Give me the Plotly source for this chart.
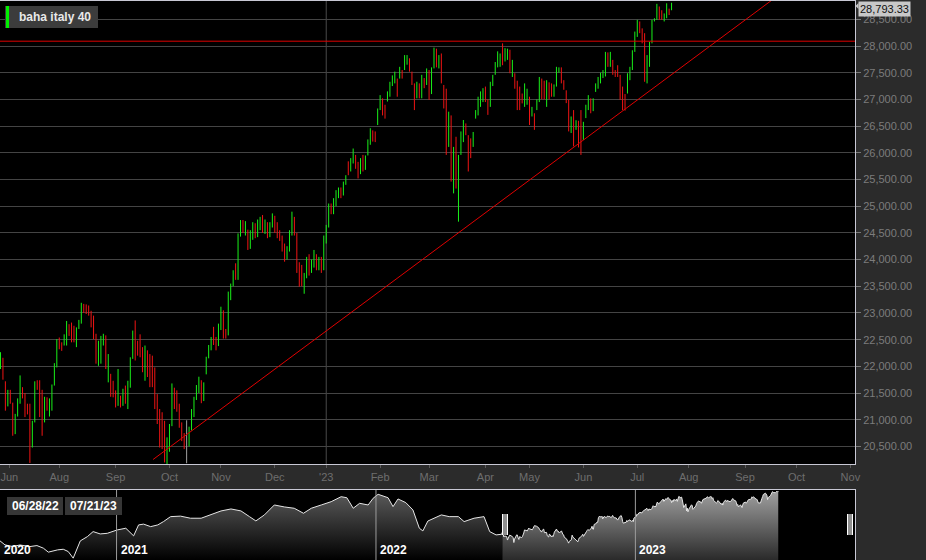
import plotly.graph_objects as go
import pandas as pd

# ---------------- data ----------------
HOLIDAYS = ["2022-12-26", "2023-04-07", "2023-04-10", "2023-05-01"]
bar_dates = [d.strftime("%Y-%m-%d") for d in pd.bdate_range("2022-06-28", "2023-07-21")
             if d.strftime("%Y-%m-%d") not in HOLIDAYS]

opens = [
    22000, 22120, 21700, 21300,
    21500, 21300, 20800, 21080, 21400,
    21580, 21450, 21250, 21200, 20500,
    20980, 21720, 21700, 21200, 20950,
    21400, 21150, 21300, 21650, 22000,
    22500, 22400, 22400, 22550, 22780,
    22700, 22600, 22450, 22720, 22820,
    23170, 23150, 23100, 23000, 22900,
    22500, 22100, 22200, 22450, 22550,
    21750, 21850, 21700, 21500, 21330,
    21400, 21300, 21500, 21350, 21650,
    22150, 22700, 22400, 22450, 22300,
    21850, 22250, 22100, 21900, 21800,
    21300, 21100, 20700, 20900, 20350,
    20500, 20900, 21550, 21450, 21200,
    20900, 20700, 20515, 20550, 20850,
    21150, 21400, 21600, 21700, 21400,
    21870, 22180, 22350, 22600, 22500,
    22400, 22750, 23000, 22680, 22600,
    23300, 23550, 23850, 23650, 24450,
    24700, 24500, 24550, 24250, 24450,
    24650, 24450, 24650, 24800, 24550,
    24650, 24450, 24650, 24800, 24600,
    24450, 24400, 24250, 24050, 24200,
    24500, 24750, 24450, 23900, 23800,
    23550, 23700, 24000, 23800, 23950,
    24050, 23850, 24000, 23850,
    24400, 24650, 25000, 24900, 25150,
    25250, 25300, 25250, 25450, 25830,
    25650, 25850, 25950, 25830, 25650,
    25900, 25750, 25960, 26200, 26400,
    26300, 26520, 26830, 27020, 26800,
    26960, 27100, 27270, 27350, 27390,
    27400, 27550, 27550, 27700, 27770,
    27520, 27300, 27020, 27250, 27100,
    27400, 27300, 27500, 27150, 27600,
    27900, 27700, 27800, 27270, 26900,
    26200, 26650, 25500, 26100, 25300,
    25960, 26350, 26550, 26330, 26250,
    26110, 26640, 26750, 26860, 27000,
    27240, 26950, 26860, 27300,
    27460, 27650, 27610, 28000,
    27710, 27750, 27900, 27420, 27490,
    27300, 27240, 27110, 26860, 26950,
    27050, 26680, 26740, 26800,
    27000, 27390, 27300, 26860, 27300,
    27300, 27050, 27240, 27520, 27580,
    27360, 27170, 26990, 26370, 26650,
    26430, 26550, 26300, 26240, 26650,
    26850, 27000, 26800, 27140, 27250,
    27300, 27450, 27430, 27850, 27650,
    27740, 27500, 27640, 27460, 27240,
    27000, 27110, 27360, 27550, 27890,
    28170, 28450, 28300, 28240, 27300,
    27610, 28050, 28460, 28490, 28700,
    28600, 28460, 28600, 28700, 28680,
]
highs = [
    22265, 22160, 21720, 21560,
    21560, 21320, 21110, 21400, 21830,
    21610, 21500, 21300, 21300, 20980,
    21720, 21740, 21740, 21560, 21430,
    21420, 21400, 21660, 22060, 22510,
    22540, 22450, 22600, 22850, 22790,
    22820, 22760, 22730, 22870, 23190,
    23170, 23160, 23140, 23040, 22950,
    22610, 22480, 22570, 22610, 22580,
    22230, 21860, 21730, 21550, 21950,
    21450, 21580, 21640, 21730, 22170,
    22670, 22860, 22480, 22600, 22360,
    22390, 22300, 22230, 22200, 21980,
    21480, 21200, 21140, 20980, 20670,
    20920, 21680, 21600, 21550, 21300,
    20950, 20750, 20990, 20870, 21200,
    21430, 21650, 21806, 21740, 21700,
    22180, 22400, 22550, 22740, 22550,
    22800, 23117, 23050, 22700, 23400,
    23550, 23800, 23930, 24490, 24740,
    24740, 24720, 24560, 24550, 24700,
    24680, 24750, 24800, 24834, 24750,
    24700, 24700, 24865, 24820, 24700,
    24550, 24450, 24300, 24250, 24550,
    24897, 24800, 24500, 23950, 23900,
    23750, 24050, 24100, 24000, 24180,
    24100, 24050, 24050, 24450,
    24650, 25050, 25050, 25150, 25300,
    25350, 25350, 25460, 25580, 25840,
    25900, 26080, 25960, 25830, 25900,
    25960, 25950, 26250, 26460, 26420,
    26400, 26830, 27080, 27020, 26900,
    27150, 27330, 27450, 27520, 27390,
    27610, 27550, 27830, 27830, 27770,
    27520, 27300, 27330, 27300, 27460,
    27400, 27580, 27550, 27600, 27970,
    27950, 27830, 27860, 27270, 27200,
    26770, 26700, 26110, 26300, 25960,
    26400, 26614, 26550, 26330, 26270,
    26390, 26800, 27050, 27150, 27210,
    27240, 27000, 27330, 27460,
    27700, 27900, 27860, 28050,
    27960, 27950, 27930, 27740, 27490,
    27350, 27240, 27110, 27300, 27200,
    27050, 26860, 26740, 27000,
    27420, 27390, 27350, 27360, 27320,
    27300, 27280, 27610, 27600, 27600,
    27360, 27170, 26990, 26680, 26800,
    26610, 26600, 26800, 26580, 26900,
    27080, 27020, 27020, 27300, 27420,
    27500, 27550, 27890, 27880, 27890,
    27740, 27550, 27640, 27460, 27240,
    27100, 27490, 27610, 27920, 28270,
    28490, 28460, 28330, 28240, 27830,
    28080, 28490, 28520, 28790, 28740,
    28670, 28610, 28800, 28700, 28810,
]
lows = [
    21950, 21750, 21170, 21250,
    21300, 20700, 20730, 21060, 21300,
    21400, 21050, 21100, 20190, 20480,
    20950, 21560, 21050, 20700, 20950,
    21170, 21060, 21170, 21640, 21980,
    22320, 22290, 22390, 22390, 22570,
    22450, 22450, 22360, 22700, 22800,
    23000, 22980, 22950, 22730, 22510,
    22050, 22010, 22050, 22390, 21950,
    21700, 21430, 21420, 21230, 21260,
    21230, 21260, 21300, 21200, 21600,
    22140, 22110, 22200, 22170, 21890,
    21730, 21800, 21610, 21610, 21200,
    20920, 20480, 20450, 20200, 20170,
    20400, 20880, 21200, 21150, 20850,
    20600, 20450, 20185, 20500, 20800,
    21050, 21370, 21500, 21310, 21350,
    21850, 22150, 22300, 22400, 22300,
    22380, 22680, 22520, 22520, 22580,
    23240, 23500, 23620, 23620, 24430,
    24500, 24450, 24180, 24200, 24370,
    24400, 24420, 24550, 24500, 24480,
    24400, 24420, 24600, 24500, 24400,
    24350, 24150, 23960, 24000, 24150,
    24450, 24450, 23750, 23492, 23500,
    23360, 23650, 23700, 23750, 23850,
    23800, 23800, 23750, 23800,
    24300, 24600, 24850, 24850, 25000,
    25150, 25150, 25200, 25400, 25580,
    25650, 25800, 25700, 25520, 25600,
    25650, 25680, 25950, 26150, 26210,
    26200, 26520, 26800, 26700, 26640,
    26960, 27050, 27250, 27300, 27050,
    27390, 27390, 27550, 27650, 27520,
    27270, 26800, 27020, 27020, 27020,
    27210, 27270, 26990, 27100, 27580,
    27600, 27580, 27300, 26830, 25960,
    26110, 25460, 25240, 25330, 24710,
    25960, 26200, 26330, 25650, 25900,
    26110, 26640, 26700, 26860, 26950,
    26950, 26710, 26860, 27250,
    27460, 27600, 27610, 27640,
    27710, 27740, 27490, 27420, 27200,
    26800, 26800, 26925, 26860, 26900,
    26520, 26680, 26430, 26800,
    26950, 27000, 27000, 26860, 27000,
    27050, 27050, 27240, 27500, 27300,
    27180, 26930, 26400, 26370, 26120,
    26430, 26100, 25960, 26240, 26650,
    26800, 26740, 26780, 27140, 27200,
    27300, 27400, 27430, 27610, 27610,
    27460, 27420, 27420, 26990, 26800,
    26790, 27110, 27360, 27550, 27890,
    28170, 28240, 28050, 27330, 27300,
    27610, 28050, 28460, 28490, 28490,
    28490, 28460, 28520, 28580, 28670,
]
closes = [
    22150, 21800, 21300, 21480,
    21350, 20800, 21050, 21380, 21600,
    21450, 21150, 21180, 20400, 20950,
    21650, 21610, 21150, 20900, 21350,
    21200, 21350, 21600, 21950, 22450,
    22350, 22300, 22550, 22750, 22620,
    22500, 22480, 22700, 22850, 23150,
    23050, 23000, 22980, 22800, 22550,
    22100, 22400, 22500, 22580, 22000,
    22050, 21500, 21450, 21300, 21800,
    21300, 21520, 21350, 21650, 22100,
    22600, 22250, 22300, 22200, 21950,
    22300, 21850, 21700, 21650, 21250,
    21000, 20600, 20550, 20300, 20600,
    20850, 21600, 21300, 21200, 20950,
    20650, 20550, 20515, 20850, 21150,
    21380, 21600, 21750, 21400, 21650,
    22150, 22350, 22500, 22450, 22350,
    22750, 23050, 22600, 22560, 23350,
    23500, 23750, 23700, 24450, 24650,
    24550, 24680, 24250, 24500, 24650,
    24450, 24700, 24750, 24550, 24700,
    24450, 24650, 24820, 24550, 24450,
    24400, 24200, 24050, 24200, 24500,
    24800, 24500, 23850, 23550, 23600,
    23700, 24000, 23800, 23950, 24100,
    23850, 24000, 23800, 24400,
    24600, 25000, 24900, 25100, 25240,
    25300, 25200, 25430, 25550, 25620,
    25850, 26000, 25750, 25600, 25850,
    25750, 25900, 26200, 26400, 26250,
    26280, 26780, 27000, 26750, 26700,
    27100, 27280, 27420, 27480, 27100,
    27560, 27420, 27780, 27750, 27550,
    27300, 26900, 27250, 27050, 27400,
    27250, 27500, 27100, 27550, 27900,
    27700, 27800, 27350, 26900, 26100,
    26700, 25550, 26000, 25400, 25800,
    26350, 26550, 26400, 25800, 25950,
    26350, 26750, 27000, 27100, 27150,
    27000, 26800, 27280, 27400,
    27650, 27850, 27800, 27700,
    27900, 27850, 27550, 27700, 27250,
    26900, 26850, 26950, 27250, 27150,
    26600, 26800, 26500, 26950,
    27350, 27100, 27050, 27300, 27100,
    27080, 27250, 27550, 27580, 27350,
    27200, 26950, 26450, 26600, 26200,
    26550, 26150, 26100, 26500, 26850,
    27000, 26800, 26980, 27250, 27380,
    27450, 27500, 27850, 27700, 27850,
    27500, 27450, 27450, 27050, 26850,
    26850, 27450, 27580, 27880, 28230,
    28450, 28300, 28100, 27400, 27750,
    28000, 28450, 28500, 28700, 28550,
    28520, 28600, 28750, 28620, 28793.33,
]

# navigator history (before the shown window), read from the overview strip
nav_hist_dates = [
    "2020-07-21", "2020-07-28", "2020-08-08", "2020-08-18", "2020-09-01", "2020-09-11",
    "2020-09-20", "2020-09-27", "2020-10-10", "2020-10-18", "2020-10-25", "2020-11-01",
    "2020-11-11", "2020-11-21", "2020-11-29", "2020-12-09", "2020-12-19", "2021-01-02",
    "2021-01-14", "2021-01-25", "2021-02-01", "2021-02-08", "2021-02-18", "2021-02-28",
    "2021-03-08", "2021-03-18", "2021-04-01", "2021-04-15", "2021-04-30", "2021-05-14",
    "2021-05-28", "2021-06-11", "2021-06-25", "2021-07-07", "2021-07-16", "2021-07-28",
    "2021-08-11", "2021-08-25", "2021-09-08", "2021-09-21", "2021-10-02", "2021-10-16",
    "2021-10-30", "2021-11-13", "2021-11-21", "2021-11-30", "2021-12-09", "2021-12-21",
    "2021-12-28", "2022-01-04", "2022-01-18", "2022-01-25", "2022-02-01", "2022-02-12",
    "2022-02-22", "2022-03-03", "2022-03-08", "2022-03-15", "2022-03-24", "2022-04-03",
    "2022-04-14", "2022-04-27", "2022-05-05", "2022-05-19", "2022-06-02", "2022-06-10",
    "2022-06-19", "2022-06-27",
]
nav_hist_values = [
    20665, 20015, 19740, 20000, 19740, 19900,
    19480, 18830, 19200, 19300, 18925, 17850,
    20665, 21365, 22180, 21800, 21900, 22455,
    22730, 21480, 23270, 23400, 22990, 23270,
    23810, 24620, 24700, 24360, 24360, 24895,
    25545, 25870, 25550, 24620, 23920, 24895,
    26520, 26200, 25985, 25170, 25985, 26520,
    27060, 27870, 27700, 25985, 26790, 26520,
    27610, 28260, 27700, 26250, 27500, 26900,
    25710, 22730, 22290, 23900, 24360, 24900,
    24620, 24620, 23810, 24360, 24620, 22180,
    21640, 21750,
]

# trend line and level line drawn on the chart
trend_dates = ["2022-09-22 07:00", "2023-10-16"]
trend_values = [20255, 29542]
level_value = 28090

month_ticks = ["2022-07-01 14:00", "2022-08-01", "2022-09-01", "2022-10-03", "2022-11-01", "2022-12-01",
               "2023-01-02", "2023-02-01", "2023-03-01", "2023-04-03", "2023-05-02", "2023-06-01",
               "2023-07-03", "2023-08-01", "2023-09-01", "2023-10-02", "2023-11-01"]
month_labels = ["Jun", "Aug", "Sep", "Oct", "Nov", "Dec", "'23", "Feb", "Mar", "Apr", "May", "Jun",
                "Jul", "Aug", "Sep", "Oct", "Nov"]
price_ticks = [20500, 21000, 21500, 22000, 22500, 23000, 23500, 24000, 24500,
               25000, 25500, 26000, 26500, 27000, 27500, 28000, 28500]
year_starts = ["2021-01-01", "2022-01-01", "2023-01-01"]
year_labels = ["2020", "2021", "2022", "2023"]
window_labels = ["06/28/22", "07/21/23"]
series_name = "baha italy 40"

# -------------- geometry helpers (paper coords) --------------
W_PLOT = 855.0
H_PAPER = 559.0  # 560 - top margin 1


def px(x):
    return x / W_PLOT


def py(y):
    return 1 - (y - 1) / H_PAPER


FONT = "Liberation Sans, Arial, sans-serif"
MAIN_BOTTOM = py(464)
NAV_TOP = py(490)

# sanitize highs / lows so each bar contains its open/close
highs = [max(h, o, c) for h, o, c in zip(highs, opens, closes)]
lows = [min(l, o, c) for l, o, c in zip(lows, opens, closes)]

flat = [o == c for o, c in zip(opens, closes)]
idx_move = [i for i, f in enumerate(flat) if not f]
idx_flat = [i for i, f in enumerate(flat) if f]

fig = go.Figure()

fig.add_trace(go.Ohlc(
    x=[bar_dates[i] for i in idx_move],
    open=[opens[i] for i in idx_move], high=[highs[i] for i in idx_move],
    low=[lows[i] for i in idx_move], close=[closes[i] for i in idx_move],
    increasing=dict(line=dict(color="#19f019", width=1)),
    decreasing=dict(line=dict(color="#f01414", width=1)),
    tickwidth=0.5, xaxis="x", yaxis="y", hoverinfo="skip", name=series_name,
))
if idx_flat:
    fig.add_trace(go.Ohlc(
        x=[bar_dates[i] for i in idx_flat],
        open=[opens[i] for i in idx_flat], high=[highs[i] for i in idx_flat],
        low=[lows[i] for i in idx_flat], close=[closes[i] for i in idx_flat],
        increasing=dict(line=dict(color="#a0a0a0", width=1)),
        decreasing=dict(line=dict(color="#a0a0a0", width=1)),
        tickwidth=0.5, xaxis="x", yaxis="y", hoverinfo="skip",
    ))

# trend line
fig.add_trace(go.Scatter(x=trend_dates, y=trend_values, mode="lines",
                         line=dict(color="#e00000", width=1), xaxis="x", yaxis="y",
                         hoverinfo="skip", cliponaxis=True))

# navigator
NAV_LO, NAV_HI = 17550, 28960
fig.add_trace(go.Scatter(
    x=nav_hist_dates + [bar_dates[0]], y=nav_hist_values + [closes[0]], mode="lines",
    line=dict(color="#e6e6e6", width=1), fill="tozeroy",
    fillgradient=dict(type="vertical", colorscale=[[0, "#000000"], [1, "#5e5e5e"]],
                      start=NAV_LO, stop=NAV_HI),
    xaxis="x2", yaxis="y2", hoverinfo="skip"))
fig.add_trace(go.Scatter(
    x=bar_dates, y=closes, mode="lines",
    line=dict(color="#e6e6e6", width=1), fill="tozeroy",
    fillgradient=dict(type="vertical", colorscale=[[0, "#2a2a2a"], [1, "#a2a2a2"]],
                      start=NAV_LO, stop=NAV_HI),
    xaxis="x2", yaxis="y2", hoverinfo="skip"))

shapes = []
# level line
shapes.append(dict(type="line", xref="paper", yref="y", x0=0, x1=1, y0=level_value, y1=level_value,
                   line=dict(color="#e00000", width=1), layer="above"))
# year separator in main chart
shapes.append(dict(type="line", xref="x", yref="paper", x0="2023-01-02", x1="2023-01-02",
                   y0=MAIN_BOTTOM, y1=1, line=dict(color="#4a4a4a", width=1), layer="below"))
# navigator year lines
for ys in year_starts:
    shapes.append(dict(type="line", xref="x2", yref="paper", x0=ys, x1=ys, y0=0, y1=NAV_TOP,
                       line=dict(color="#9c9c9c", width=1), layer="above"))
# legend box
shapes.append(dict(type="rect", xref="paper", yref="paper", x0=px(5), x1=px(98), y0=py(28), y1=py(6),
                   fillcolor="#3c3c3c", line=dict(width=0), layer="above"))
shapes.append(dict(type="rect", xref="paper", yref="paper", x0=px(6), x1=px(9), y0=py(28), y1=py(6),
                   fillcolor="#00f000", line=dict(width=0), layer="above"))
# window date boxes
for x0, x1 in [(7, 63), (65, 122)]:
    shapes.append(dict(type="rect", xref="paper", yref="paper", x0=px(x0), x1=px(x1),
                       y0=py(515), y1=py(497), fillcolor="#363636", line=dict(width=0), layer="above"))
# navigator handles
for hx in [502, 847]:
    shapes.append(dict(type="rect", xref="paper", yref="paper", x0=px(hx), x1=px(hx + 6),
                       y0=py(535), y1=py(514), fillcolor="#ffffff", line=dict(width=0), layer="above"))
    for k in (2, 4):
        shapes.append(dict(type="line", xref="paper", yref="paper", x0=px(hx + k), x1=px(hx + k),
                           y0=py(535), y1=py(514), line=dict(color="#202020", width=1), layer="above"))
# small pointer of the last-price tag
shapes.append(dict(type="path", xref="paper", yref="paper",
                   path="M {a},{b} L {c},{d} L {c},{e} Z".format(a=px(855.5), b=py(6), c=px(858.5),
                                                                 d=py(3), e=py(9)),
                   fillcolor="#c8c8c8", line=dict(width=0), layer="above"))

annotations = []
annotations.append(dict(xref="paper", yref="paper", x=px(17), y=py(17), xanchor="left", yanchor="middle",
                        text="<b>%s</b>" % series_name, showarrow=False,
                        font=dict(family=FONT, size=12, color="#e8e8e8")))
for (x0, x1), t in zip([(7, 63), (65, 122)], window_labels):
    annotations.append(dict(xref="paper", yref="paper", x=px((x0 + x1) / 2), y=py(506),
                            xanchor="center", yanchor="middle", text="<b>%s</b>" % t, showarrow=False,
                            font=dict(family=FONT, size=12, color="#ffffff")))
for xs, t in zip(["2020-07-21"] + year_starts, year_labels):
    annotations.append(dict(xref="x2", yref="paper", x=xs, y=py(550), xanchor="left", yanchor="middle",
                            xshift=2, text="<b>%s</b>" % t, showarrow=False,
                            font=dict(family=FONT, size=12, color="#ffffff")))
annotations.append(dict(xref="paper", yref="paper", x=px(858), y=py(0.5), xanchor="left", yanchor="top",
                        text="{:,.2f}".format(closes[-1]), showarrow=False, bgcolor="#c8c8c8",
                        borderpad=1, font=dict(family=FONT, size=11, color="#111111")))

fig.update_layout(
    width=926, height=560,
    margin=dict(l=0, r=71, t=1, b=0),
    paper_bgcolor="#2b2b2b", plot_bgcolor="#000000",
    showlegend=False, hovermode=False,
    shapes=shapes, annotations=annotations,
    xaxis=dict(
        domain=[0, 1], anchor="y", type="date",
        range=["2022-06-27 19:12", "2023-11-02 21:36"],
        rangebreaks=[dict(bounds=["sat", "mon"]), dict(values=HOLIDAYS)],
        rangeslider=dict(visible=False),
        tickvals=month_ticks, ticktext=month_labels,
        ticklabeloverflow="allow",
        showgrid=False, zeroline=False,
        ticks="outside", ticklen=3, tickcolor="#5a5a5a",
        tickfont=dict(family=FONT, size=11, color="#6e6e6e"),
        showline=True, mirror=True, linecolor="#c8c8d4", linewidth=1,
    ),
    yaxis=dict(
        domain=[MAIN_BOTTOM, 1], anchor="x", side="right",
        range=[20171, 28843], tickvals=price_ticks, tickformat=",.2f",
        showgrid=True, gridcolor="#444444", gridwidth=1, zeroline=False,
        ticks="outside", ticklen=5, tickcolor="#7a7a7a",
        tickfont=dict(family=FONT, size=11, color="#7c7c7c"),
        showline=True, mirror=True, linecolor="#c8c8d4", linewidth=1,
    ),
    xaxis2=dict(
        domain=[0, 1], anchor="y2", type="date", range=["2020-07-21", "2023-11-06"],
        showticklabels=False, showgrid=False, zeroline=False, ticks="",
        showline=True, mirror=True, linecolor="#c8c8d4", linewidth=1,
    ),
    yaxis2=dict(
        domain=[0, NAV_TOP], anchor="x2", range=[NAV_LO, NAV_HI],
        showticklabels=False, showgrid=False, zeroline=False, ticks="",
        showline=True, mirror=True, linecolor="#c8c8d4", linewidth=1,
    ),
)

fig.write_html("out.html")
